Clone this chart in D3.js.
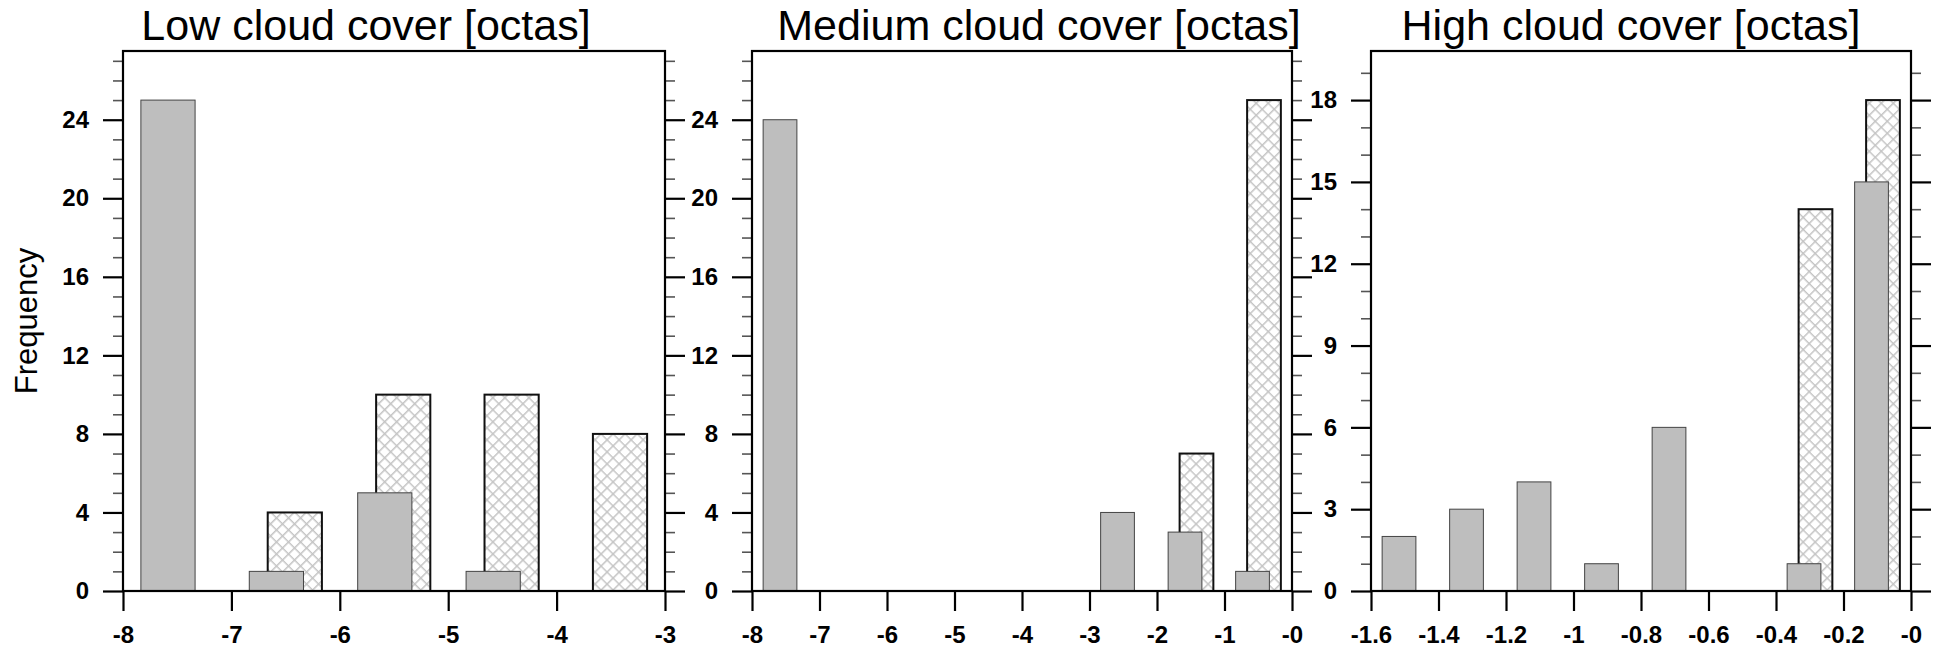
<!DOCTYPE html>
<html>
<head>
<meta charset="utf-8">
<script src="https://cdn.jsdelivr.net/npm/d3@7"></script>
<style>
  body { margin: 0; background: #fff; }
  svg text { font-family: "Liberation Sans", Arial, sans-serif; }
</style>
</head>
<body>
<svg id="chart" width="1937" height="655"></svg>
<script>
// bin edges, counts for the two series (solid grey / hatched) in each panel
const lowEdges = [-8, -7, -6, -5, -4, -3];
const lowSolid = [25, 1, 5, 1, 0];
const lowHatch = [0, 4, 10, 10, 8];
const lowLabels = ["-8", "-7", "-6", "-5", "-4", "-3"];

const medEdges = [-8, -7, -6, -5, -4, -3, -2, -1, 0];
const medSolid = [24, 0, 0, 0, 0, 4, 3, 1];
const medHatch = [0, 0, 0, 0, 0, 0, 7, 25];
const medLabels = ["-8", "-7", "-6", "-5", "-4", "-3", "-2", "-1", "-0"];

const highEdges = [-1.6, -1.4, -1.2, -1, -0.8, -0.6, -0.4, -0.2, 0];
const highSolid = [2, 3, 4, 1, 6, 0, 1, 15];
const highHatch = [0, 0, 0, 0, 0, 0, 14, 18];
const highLabels = ["-1.6", "-1.4", "-1.2", "-1", "-0.8", "-0.6", "-0.4", "-0.2", "-0"];

const titles = ["Low cloud cover [octas]", "Medium cloud cover [octas]", "High cloud cover [octas]"];
const yMajorLow = [0, 4, 8, 12, 16, 20, 24];
const yMajorHigh = [0, 3, 6, 9, 12, 15, 18];
const yMaxes = [27.5, 27.5, 19.8];

const svg = d3.select("#chart");

// hatch pattern (diamond cross hatch)
const defs = svg.append("defs");
const pat = defs.append("pattern")
  .attr("id", "xhatch")
  .attr("patternUnits", "userSpaceOnUse")
  .attr("width", 8.5).attr("height", 8.5)
  .attr("patternTransform", "rotate(45)");
pat.append("rect").attr("width", 8.5).attr("height", 8.5).attr("fill", "#fff");
pat.append("path").attr("d", "M0,0.5 H8.5 M0.5,0 V8.5")
  .attr("stroke", "#c4c4c4").attr("stroke-width", 2).attr("fill", "none");

const panels = [
  { edges: lowEdges, solid: lowSolid, hatch: lowHatch, labels: lowLabels, yMajor: yMajorLow, left: 123, right: 665, titleX: 366 },
  { edges: medEdges, solid: medSolid, hatch: medHatch, labels: medLabels, yMajor: yMajorLow, left: 752, right: 1292, titleX: 1039 },
  { edges: highEdges, solid: highSolid, hatch: highHatch, labels: highLabels, yMajor: yMajorHigh, left: 1371, right: 1911, titleX: 1631 }
];

const plotTop = 51, plotBottom = 591;

panels.forEach((p, k) => {
  const g = svg.append("g");
  const x = d3.scaleLinear().domain([p.edges[0], p.edges[p.edges.length - 1]]).range([p.left, p.right]);
  const y = d3.scaleLinear().domain([0, yMaxes[k]]).range([plotBottom, plotTop]);

  const bins = p.solid.map((v, i) => ({ x0: p.edges[i], x1: p.edges[i + 1], solid: v, hatch: p.hatch[i] }));

  // hatched bars behind
  g.selectAll(".hbar")
    .data(bins.filter(d => d.hatch > 0))
    .join("rect")
    .attr("class", "hbar")
    .attr("x", d => x(d.x0 + (d.x1 - d.x0) * 0.335))
    .attr("width", d => x(d.x0 + (d.x1 - d.x0) * 0.835) - x(d.x0 + (d.x1 - d.x0) * 0.335))
    .attr("y", d => y(d.hatch))
    .attr("height", d => y(0) - y(d.hatch))
    .attr("fill", "url(#xhatch)")
    .attr("stroke", "#111")
    .attr("stroke-width", 2);

  // solid bars in front
  g.selectAll(".sbar")
    .data(bins.filter(d => d.solid > 0))
    .join("rect")
    .attr("class", "sbar")
    .attr("x", d => x(d.x0 + (d.x1 - d.x0) * 0.165))
    .attr("width", d => x(d.x0 + (d.x1 - d.x0) * 0.665) - x(d.x0 + (d.x1 - d.x0) * 0.165))
    .attr("y", d => y(d.solid))
    .attr("height", d => y(0) - y(d.solid))
    .attr("fill", "#bebebe")
    .attr("stroke", "#444")
    .attr("stroke-width", 1);

  const minor = d3.range(0, yMaxes[k], 1).filter(v => !p.yMajor.includes(v));

  // left axis
  const la = g.append("g").attr("transform", `translate(${p.left},0)`)
    .call(d3.axisLeft(y).tickValues(p.yMajor).tickSize(20).tickPadding(14).tickFormat(d3.format("d")));
  const lm = g.append("g").attr("transform", `translate(${p.left},0)`)
    .call(d3.axisLeft(y).tickValues(minor).tickSize(10).tickFormat(""));
  // right axis (ticks only)
  const ra = g.append("g").attr("transform", `translate(${p.right},0)`)
    .call(d3.axisRight(y).tickValues(p.yMajor).tickSize(20).tickFormat(""));
  const rm = g.append("g").attr("transform", `translate(${p.right},0)`)
    .call(d3.axisRight(y).tickValues(minor).tickSize(10).tickFormat(""));
  // bottom axis
  const ba = g.append("g").attr("transform", `translate(0,${plotBottom})`)
    .call(d3.axisBottom(x).tickValues(p.edges).tickSize(20).tickPadding(15).tickFormat((d, i) => p.labels[i]));

  [la, lm, ra, rm, ba].forEach(a => a.select(".domain").remove());
  [la, ra, ba].forEach(a => a.selectAll(".tick line").attr("stroke", "#000").attr("stroke-width", 2.2));
  [lm, rm].forEach(a => a.selectAll(".tick line").attr("stroke", "#555").attr("stroke-width", 1.6));
  [la, ba].forEach(a => a.selectAll(".tick text")
    .attr("fill", "#000").style("font-size", "24px").style("font-weight", "bold"));

  // frame
  g.append("rect")
    .attr("x", p.left).attr("y", plotTop)
    .attr("width", p.right - p.left).attr("height", plotBottom - plotTop)
    .attr("fill", "none").attr("stroke", "#000").attr("stroke-width", 2.2);

  // title
  svg.append("text")
    .attr("x", p.titleX).attr("y", 40)
    .attr("text-anchor", "middle")
    .style("font-size", "43px")
    .text(titles[k]);
});

svg.append("text")
  .attr("transform", "translate(37,321) rotate(-90)")
  .attr("text-anchor", "middle")
  .style("font-size", "31px")
  .text("Frequency");
</script>
</body>
</html>
